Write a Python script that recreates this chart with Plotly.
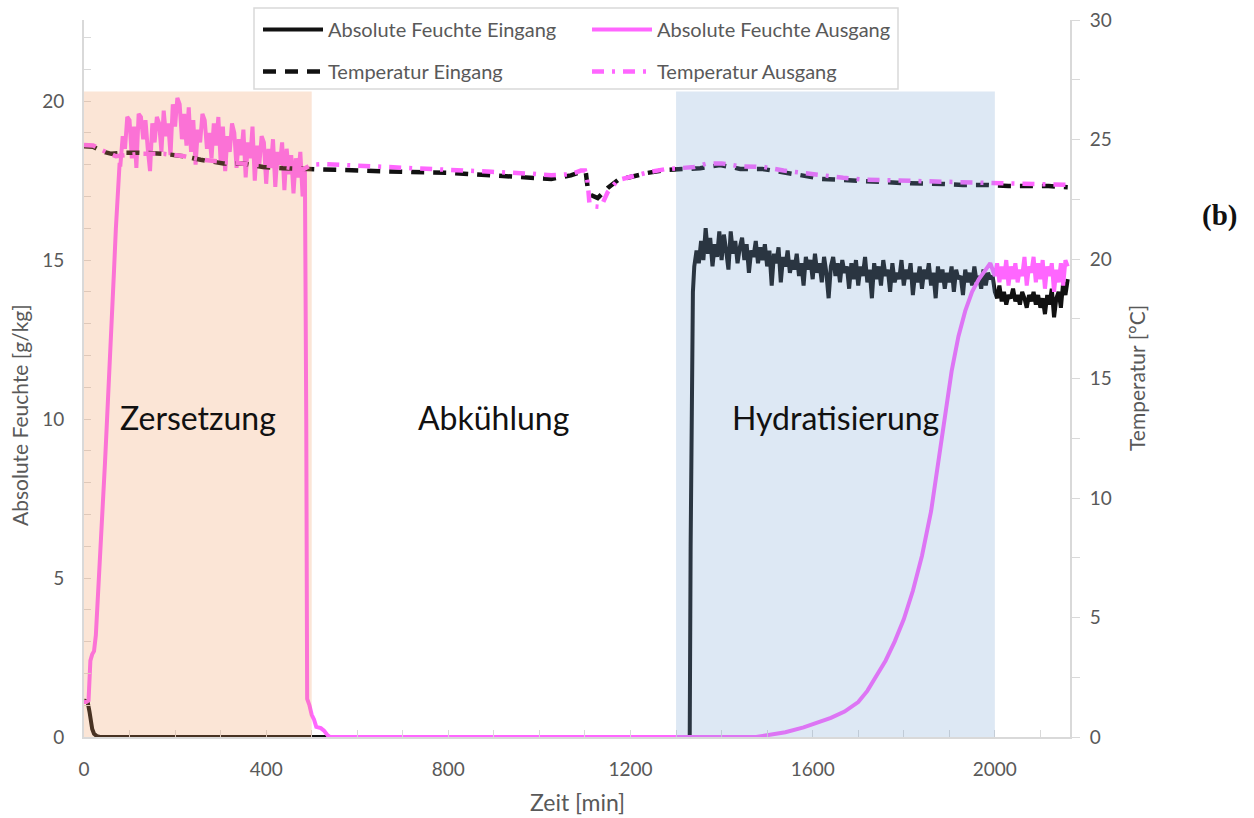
import plotly.graph_objects as go

# ---------------- data ----------------
# Absolute Feuchte Eingang [g/kg]
af_ein_t = [0, 8, 12, 15, 18, 22, 28, 35, 1330, 1332, 1334, 1337, 1340] + list(range(1345, 2161, 5))
af_ein_v = [1.15, 1.1, 0.8, 0.45, 0.25, 0.1, 0.03, 0.0, 0.0, 6.0, 11.0, 14.0, 14.8] + [
    15.3, 14.9, 15.6, 15.0, 16.0, 15.2, 15.7, 14.8, 15.5, 15.1,
    15.9, 15.0, 15.8, 15.3, 14.7, 15.9, 15.2, 15.6, 14.9, 15.4,
    15.7, 15.0, 15.5, 14.6, 15.3, 15.1, 15.6, 14.9, 15.4, 15.0,
    15.5, 14.8, 15.3, 14.2, 15.2, 14.9, 15.4, 14.3, 15.1, 14.8,
    15.3, 14.6, 15.0, 14.7, 15.2, 14.5, 14.9, 14.2, 15.1, 14.7,
    15.0, 14.4, 15.2, 14.6, 14.9, 14.3, 15.1, 14.6, 13.8, 14.8,
    15.1, 14.5, 14.9, 14.3, 15.0, 14.6, 14.8, 14.1, 14.9, 14.4,
    15.0, 14.2, 14.8, 14.5, 15.1, 14.3, 14.7, 13.8, 14.9, 14.4,
    14.8, 14.2, 15.0, 14.5, 14.7, 14.0, 14.9, 14.3, 14.6, 14.4,
    15.0, 14.2, 14.7, 14.4, 14.9, 13.9, 14.6, 14.3, 14.8, 14.1,
    14.7, 14.4, 14.9, 14.2, 14.6, 13.8, 14.8, 14.3, 14.7, 14.1,
    14.6, 14.3, 14.8, 14.0, 14.7, 14.4, 14.5, 13.9, 14.7, 14.3,
    14.6, 14.2, 14.8, 14.3, 14.5, 14.1, 14.7, 14.2, 14.6, 14.4,
    14.5, 14.0, 13.8, 14.2, 13.7, 14.0, 13.6, 13.9, 13.8, 14.1,
    13.7, 13.9, 13.6, 14.0, 13.8, 13.5, 13.9, 13.7, 14.0, 13.6,
    13.9, 13.5, 13.8, 13.3, 13.9, 13.6, 14.1, 13.2, 13.8, 14.0,
    13.5, 14.3, 13.9, 14.4,
]

# Absolute Feuchte Ausgang [g/kg]
af_aus_t = ([0, 5, 10, 12, 14, 18, 22, 26, 30, 34, 38, 42, 46, 50, 54, 58, 62, 66, 70, 74, 78]
            + list(range(80, 486, 5))
            + [488, 490, 495, 500, 505, 510, 520, 527, 535, 540, 1476, 1500, 1540, 1580, 1610,
               1640, 1670, 1700, 1720, 1740, 1760, 1780, 1800, 1820, 1840, 1860, 1875, 1890,
               1905, 1920, 1935, 1950, 1965, 1980, 1990]
            + list(range(2000, 2161, 5)))
af_aus_v = ([1.1, 1.1, 1.15, 1.8, 2.4, 2.6, 2.7, 3.2, 4.2, 5.2, 6.4, 7.6, 8.6, 9.8, 11.2, 12.3,
             13.4, 14.7, 16.0, 17.2, 18.0]
            + [18.0, 18.9, 18.5, 19.5, 19.4, 18.2, 19.2, 17.9, 19.6, 19.5,
               18.8, 19.4, 18.5, 17.8, 19.3, 18.7, 19.5, 19.3, 18.4, 19.7,
               18.9, 19.3, 18.3, 19.9, 19.2, 20.1, 19.9, 18.8, 19.6, 18.6,
               19.8, 18.4, 19.4, 18.0, 19.1, 18.7, 19.6, 19.4, 18.5, 19.0,
               18.2, 19.3, 18.6, 19.5, 18.1, 19.2, 17.8, 18.9, 18.4, 19.3,
               19.0, 17.9, 18.8, 18.3, 19.1, 17.6, 18.7, 18.2, 19.2, 17.5,
               18.6, 18.0, 18.9, 18.7, 17.4, 18.5, 17.9, 18.8, 17.3, 18.4,
               18.0, 18.7, 17.2, 18.5, 17.7, 18.3, 17.1, 18.2, 17.6, 18.4,
               17.0, 17.9]
            + [10.0, 1.2, 1.0, 0.7, 0.55, 0.32, 0.28, 0.2, 0.05, 0.0, 0.0, 0.05, 0.15, 0.3, 0.45,
               0.6, 0.8, 1.1, 1.45, 1.9, 2.4, 3.0, 3.7, 4.6, 5.7, 7.1, 8.5, 10.0,
               11.5, 12.6, 13.4, 14.0, 14.4, 14.7, 14.9]
            + [14.5, 14.9, 14.3, 14.8, 14.4, 15.0, 14.2, 14.8, 14.4, 14.9,
               14.3, 14.7, 14.5, 15.1, 14.2, 14.8, 14.6, 15.1, 14.3, 14.9,
               14.4, 15.0, 14.1, 14.8, 14.5, 14.9, 14.0, 14.7, 14.3, 14.9,
               14.2, 15.0, 14.8])

# Temperatur Eingang [°C]
t_ein_t = [0, 20, 40, 60, 84, 120, 175, 219, 256, 306, 350, 393, 437, 481, 527, 618, 712, 807,
           895, 982, 1026, 1069, 1091, 1102, 1106, 1113, 1128, 1150, 1172, 1200, 1237, 1274,
           1318, 1353, 1397, 1441, 1489, 1536, 1576, 1620, 1667, 1711, 1755, 1798, 1842, 1886,
           1930, 1980, 2030, 2075, 2118, 2160]
t_ein_v = [24.72, 24.7, 24.5, 24.4, 24.45, 24.45, 24.4, 24.3, 24.15, 24.0, 24.0, 23.85, 23.8,
           23.77, 23.77, 23.72, 23.64, 23.6, 23.5, 23.43, 23.35, 23.5, 23.64, 23.6, 22.97,
           22.68, 22.55, 22.97, 23.3, 23.43, 23.6, 23.72, 23.77, 23.8, 23.93, 23.77, 23.77,
           23.64, 23.5, 23.35, 23.3, 23.22, 23.22, 23.18, 23.18, 23.14, 23.1, 23.1, 23.05,
           23.05, 23.05, 23.0]

# Temperatur Ausgang [°C]
t_aus_t = [0, 20, 40, 70, 120, 175, 220, 260, 310, 350, 400, 440, 481, 500, 527, 618, 712, 807,
           895, 982, 1026, 1069, 1091, 1100, 1106, 1110, 1122, 1135, 1150, 1172, 1200, 1237,
           1274, 1318, 1340, 1368, 1400, 1441, 1493, 1536, 1580, 1624, 1667, 1711, 1755, 1798,
           1842, 1886, 1930, 1980, 2030, 2075, 2118, 2160]
t_aus_v = [24.77, 24.75, 24.55, 24.3, 24.4, 24.4, 24.3, 24.15, 24.05, 24.0, 23.9, 23.85, 23.75,
           23.95, 23.97, 23.9, 23.82, 23.75, 23.65, 23.57, 23.5, 23.55, 23.7, 23.7, 23.2, 22.3,
           22.2, 22.18, 22.8, 23.3, 23.45, 23.62, 23.75, 23.8, 23.85, 24.0, 24.0, 23.88, 23.85,
           23.7, 23.6, 23.47, 23.4, 23.32, 23.3, 23.28, 23.26, 23.24, 23.22, 23.18, 23.14,
           23.12, 23.1, 23.1]

phases = ["Zersetzung", "Abkühlung", "Hydratisierung"]
phase_x = [250, 900, 1651]
zers_range = [0, 500]
hyd_range = [1300, 2000]
shade_top = 20.3

x_ticks = [0, 400, 800, 1200, 1600, 2000]

# ---------------- figure ----------------
FONT = "Lato"
GRAY = "#595959"
AXC = "#d9d9d9"

fig = go.Figure()
fig.add_trace(go.Scatter(x=af_ein_t, y=af_ein_v, name="Absolute Feuchte Eingang", mode="lines",
                         line=dict(color="#111111", width=4), legend="legend"))
fig.add_trace(go.Scatter(x=af_aus_t, y=af_aus_v, name="Absolute Feuchte Ausgang", mode="lines",
                         line=dict(color="#ff66ff", width=4), legend="legend"))
fig.add_trace(go.Scatter(x=t_ein_t, y=t_ein_v, name="Temperatur Eingang", mode="lines",
                         line=dict(color="#111111", width=4.5, dash="13px,9px"),
                         yaxis="y2", legend="legend2"))
fig.add_trace(go.Scatter(x=t_aus_t, y=t_aus_v, name="Temperatur Ausgang", mode="lines",
                         line=dict(color="#ff66ff", width=4.5, dash="12px,8px,3px,8px"),
                         yaxis="y2", legend="legend2"))

# shaded phases (semi-transparent, above the data like the original)
fig.add_shape(type="rect", xref="x", yref="y", x0=zers_range[0], x1=zers_range[1], y0=0, y1=shade_top,
              fillcolor="rgb(239,151,91)", opacity=0.25, line=dict(width=0), layer="above")
fig.add_shape(type="rect", xref="x", yref="y", x0=hyd_range[0], x1=hyd_range[1], y0=0, y1=shade_top,
              fillcolor="rgb(119,163,211)", opacity=0.25, line=dict(width=0), layer="above")

# pixel helpers for the paper-positioned decorations
L, T, W, H = 84, 20, 986, 717
def px_x(p): return (p - L) / W
def px_y(p): return (T + H - p) / H

fig.add_shape(type="rect", xref="paper", yref="paper", x0=px_x(254), x1=px_x(898),
              y0=px_y(89), y1=px_y(8), line=dict(color=AXC, width=1.5), fillcolor="white",
              layer="below")

for name, xv in zip(phases, phase_x):
    fig.add_annotation(x=xv, y=10.05, xref="x", yref="y", text=name, showarrow=False,
                       xanchor="center", yanchor="middle",
                       font=dict(family=FONT, size=32, color="#111111"))

def paper_text(x, y, text, size, angle=0, family=FONT, color=GRAY):
    fig.add_annotation(x=px_x(x), y=px_y(y), xref="paper", yref="paper", text=text,
                       textangle=angle, showarrow=False, xanchor="center", yanchor="middle",
                       font=dict(family=family, size=size, color=color))

paper_text(577, 802, "Zeit [min]", 23)
paper_text(19, 415, "Absolute Feuchte [g/kg]", 21, angle=-90)
paper_text(1136, 378, "Temperatur [°C]", 21, angle=-90)
paper_text(1219, 215, "<b>(b)</b>", 29, family="Liberation Serif", color="#111111")

axis_common = dict(showgrid=False, zeroline=False, showline=True, linecolor=AXC, linewidth=2,
                   tickcolor=AXC, tickfont=dict(family=FONT, size=19, color=GRAY))

legend_common = dict(orientation="h", x=px_x(258), xanchor="left", yanchor="top",
                     entrywidth=254, bgcolor="rgba(0,0,0,0)",
                     font=dict(family=FONT, size=20, color=GRAY), itemwidth=60, tracegroupgap=0)

fig.update_layout(
    width=1254, height=818, autosize=False,
    margin=dict(l=L, r=1254 - L - W, t=T, b=818 - T - H, autoexpand=False),
    paper_bgcolor="white", plot_bgcolor="white",
    showlegend=True,
    xaxis=dict(range=[0, 2165], tickvals=x_ticks, ticks="inside", ticklen=7,
               minor=dict(dtick=100, ticks="inside", ticklen=7, tickcolor=AXC),
               ticklabelstandoff=14, automargin=False, **axis_common),
    yaxis=dict(range=[0, 22.55], dtick=5, ticks="inside", ticklen=7,
               minor=dict(dtick=1, ticks="inside", ticklen=7, tickcolor=AXC),
               ticklabelstandoff=14, automargin=False, **axis_common),
    yaxis2=dict(range=[0, 30], dtick=5, overlaying="y", side="right", ticks="outside", ticklen=8,
                minor=dict(dtick=2.5, ticks="outside", ticklen=8, tickcolor=AXC),
                ticklabelstandoff=6, automargin=False, **axis_common),
    legend=dict(y=px_y(10), **legend_common),
    legend2=dict(y=px_y(52), **legend_common),
)

fig.write_html("out.html")
